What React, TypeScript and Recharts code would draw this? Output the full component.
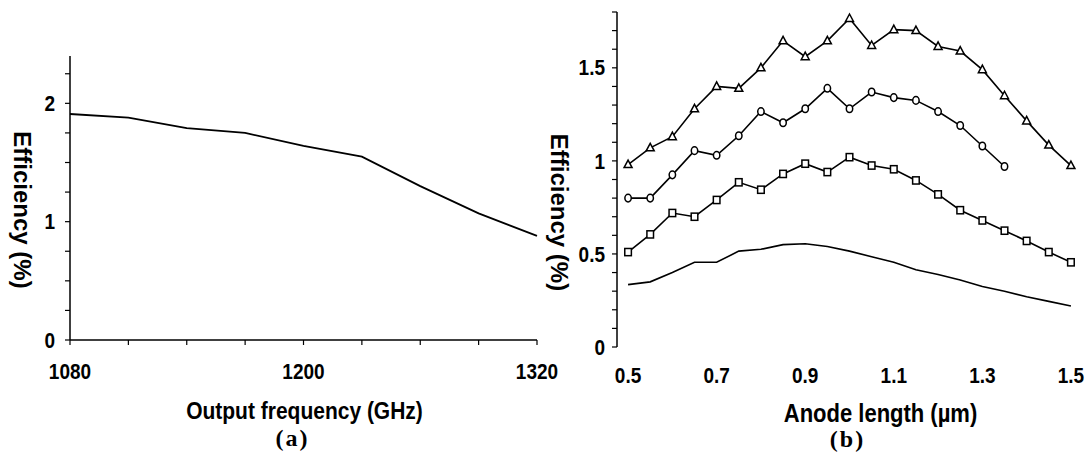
import React from 'react'
import { Label, Line, LineChart, XAxis, YAxis } from 'recharts'

// (a) efficiency vs output frequency
const freqs = [1080, 1110, 1140, 1170, 1200, 1230, 1260, 1290, 1320]
const effFreq = [1.91, 1.88, 1.79, 1.75, 1.64, 1.55, 1.3, 1.07, 0.88]
const freqTicks = [1080, 1110, 1140, 1170, 1200, 1230, 1260, 1290, 1320]
const freqLabels = [1080, 1200, 1320]
const effTicksA = [0, 0.25, 0.5, 0.75, 1, 1.25, 1.5, 1.75, 2, 2.25]
const effLabelsA = [0, 1, 2]

// (b) efficiency vs anode length, four curves
const anode = [
  0.5, 0.55, 0.6, 0.65, 0.7, 0.75, 0.8, 0.85, 0.9, 0.95, 1, 1.05, 1.1, 1.15,
  1.2, 1.25, 1.3, 1.35, 1.4, 1.45, 1.5,
]
const triangles = [
  0.98, 1.07, 1.13, 1.28, 1.4, 1.39, 1.5, 1.645, 1.56, 1.645, 1.765, 1.62,
  1.705, 1.7, 1.615, 1.59, 1.49, 1.35, 1.215, 1.085, 0.975,
]
const circles = [
  0.8, 0.8, 0.925, 1.055, 1.03, 1.135, 1.265, 1.205, 1.28, 1.39, 1.28, 1.37,
  1.34, 1.325, 1.265, 1.19, 1.08, 0.97, null, null, null,
]
const squares = [
  0.51, 0.605, 0.72, 0.7, 0.79, 0.885, 0.845, 0.93, 0.985, 0.94, 1.02, 0.975,
  0.955, 0.895, 0.82, 0.735, 0.68, 0.625, 0.57, 0.51, 0.455,
]
const plain = [
  0.335, 0.35, 0.4, 0.455, 0.455, 0.515, 0.525, 0.55, 0.555, 0.54, 0.515,
  0.485, 0.455, 0.415, 0.39, 0.36, 0.325, 0.3, 0.27, 0.245, 0.22,
]
// tick marks sit between the categories, labels on every 4th category
const anodeBoundaries = [
  0.475, 0.525, 0.575, 0.625, 0.675, 0.725, 0.775, 0.825, 0.875, 0.925, 0.975,
  1.025, 1.075, 1.125, 1.175, 1.225, 1.275, 1.325, 1.375, 1.425, 1.475, 1.525,
]
const anodeLabels = [0.5, 0.7, 0.9, 1.1, 1.3, 1.5]
const effTicksB = [
  0, 0.1, 0.2, 0.3, 0.4, 0.5, 0.6, 0.7, 0.8, 0.9, 1, 1.1, 1.2, 1.3, 1.4, 1.5,
  1.6, 1.7, 1.8,
]
const effLabelsB = [0, 0.5, 1, 1.5]

const dataA = freqs.map((f, i) => ({ f, eff: effFreq[i] }))
const dataB = anode.map((x, i) => ({
  x,
  tri: triangles[i],
  circ: circles[i],
  sq: squares[i],
  plain: plain[i],
}))

const SANS = '"Liberation Sans", Arial, sans-serif'
const SERIF = '"Liberation Serif", "Times New Roman", serif'
// the scanned figure is a little taller than wide, so text is stretched a bit
const STRETCH = 1.13
const TICK_SIZE = 19

const axisLine = { stroke: '#000', strokeWidth: 1.5 }
const tickLine = { stroke: '#000', strokeWidth: 1.2 }

const only = (list: number[]) => (v: number) =>
  list.some((l) => Math.abs(l - v) < 1e-9) ? String(v) : ''

const Tick = ({ x, y, payload, textAnchor, fmt, side }: any) => {
  const label = fmt(payload.value)
  if (!label) return null
  const dy = side === 'y' ? 0.355 * TICK_SIZE * STRETCH : 0.72 * TICK_SIZE * STRETCH
  return (
    <g transform={`translate(${x},${y + dy}) scale(1,${STRETCH})`}>
      <text
        x={0}
        y={0}
        textAnchor={textAnchor}
        fill="#000"
        fontSize={TICK_SIZE}
        fontWeight={700}
        fontFamily={SANS}
      >
        {label}
      </text>
    </g>
  )
}

const XTitle = ({ viewBox, text, dx = 0, dy = 0, size = 21, serif = false }: any) => {
  const x = viewBox.x + viewBox.width / 2 + dx
  const y = viewBox.y + dy
  return (
    <g transform={`translate(${x},${y}) scale(1,${serif ? 1 : STRETCH})`}>
      <text
        x={0}
        y={0}
        textAnchor="middle"
        fill="#000"
        fontSize={size}
        fontWeight={700}
        fontFamily={serif ? SERIF : SANS}
        letterSpacing={serif ? 2 : 0}
      >
        {text}
      </text>
    </g>
  )
}

const YTitle = ({ viewBox, text, dx = 0, dy = 0, size = 24 }: any) => {
  const x = viewBox.x + dx
  const y = viewBox.y + viewBox.height / 2 + dy
  return (
    <text
      x={x}
      y={y}
      transform={`rotate(90, ${x}, ${y})`}
      textAnchor="middle"
      dominantBaseline="central"
      fill="#000"
      fontSize={size}
      fontWeight={700}
      fontFamily={SANS}
    >
      {text}
    </text>
  )
}

const Triangle = ({ cx, cy }: any) => {
  if (cx == null || cy == null) return null
  return (
    <path
      d={`M${cx},${cy - 4.5} L${cx + 4},${cy + 3} L${cx - 4},${cy + 3} Z`}
      fill="#fff"
      stroke="#000"
      strokeWidth={1.5}
    />
  )
}

const Circle = ({ cx, cy }: any) => {
  if (cx == null || cy == null) return null
  return <ellipse cx={cx} cy={cy} rx={3.2} ry={3.8} fill="#fff" stroke="#000" strokeWidth={1.5} />
}

const Square = ({ cx, cy }: any) => {
  if (cx == null || cy == null) return null
  return (
    <rect x={cx - 3.3} y={cy - 3.6} width={6.6} height={7.2} fill="#fff" stroke="#000" strokeWidth={1.5} />
  )
}

function ChartA() {
  return (
    <LineChart width={560} height={466} data={dataA} margin={{ top: 56, right: 23, left: 0, bottom: 0 }}>
      <XAxis
        dataKey="f"
        type="number"
        domain={[1080, 1320]}
        ticks={freqTicks}
        interval={0}
        height={126}
        tickSize={5}
        tickMargin={19}
        tick={<Tick fmt={only(freqLabels)} side="x" />}
        axisLine={axisLine}
        tickLine={tickLine}
      >
        <Label content={<XTitle text="Output frequency (GHz)" dx={1} dy={79} />} />
        <Label content={<XTitle text="(a)" dx={-11} dy={106} size={24} serif />} />
      </XAxis>
      <YAxis
        type="number"
        domain={[0, 2.4]}
        ticks={effTicksA}
        interval={0}
        width={70}
        tickSize={5}
        tickMargin={10}
        tick={<Tick fmt={only(effLabelsA)} side="y" />}
        axisLine={axisLine}
        tickLine={tickLine}
      >
        <Label content={<YTitle text="Efficiency (%)" dx={22} dy={12} />} />
      </YAxis>
      <Line
        type="linear"
        dataKey="eff"
        stroke="#000"
        strokeWidth={1.8}
        dot={false}
        isAnimationActive={false}
      />
    </LineChart>
  )
}

function ChartB() {
  return (
    <LineChart width={551} height={466} data={dataB} margin={{ top: 12, right: 9, left: 0, bottom: 0 }}>
      <XAxis
        xAxisId="marks"
        dataKey="x"
        type="number"
        domain={[0.475, 1.525]}
        ticks={anodeBoundaries}
        interval={0}
        height={0}
        tickSize={6}
        tick={<Tick fmt={() => ''} side="x" />}
        axisLine={axisLine}
        tickLine={tickLine}
      />
      <XAxis
        xAxisId="labels"
        dataKey="x"
        type="number"
        domain={[0.475, 1.525]}
        ticks={anodeLabels}
        interval={0}
        height={119}
        tickSize={0}
        tickMargin={21}
        tick={<Tick fmt={only(anodeLabels)} side="x" />}
        axisLine={false}
        tickLine={false}
      >
        <Label content={<XTitle text="Anode length (µm)" dx={31} dy={75} size={22} />} />
        <Label content={<XTitle text="(b)" dx={-2} dy={100} size={24} serif />} />
      </XAxis>
      <YAxis
        type="number"
        domain={[0, 1.8]}
        ticks={effTicksB}
        interval={0}
        width={77}
        tickSize={5}
        tickMargin={7}
        tick={<Tick fmt={only(effLabelsB)} side="y" />}
        axisLine={axisLine}
        tickLine={tickLine}
      >
        <Label content={<YTitle text="Efficiency (%)" dx={19} dy={33} />} />
      </YAxis>
      <Line xAxisId="labels" type="linear" dataKey="tri" stroke="#000" strokeWidth={1.6} dot={<Triangle />} isAnimationActive={false} />
      <Line xAxisId="labels" type="linear" dataKey="circ" stroke="#000" strokeWidth={1.6} dot={<Circle />} isAnimationActive={false} />
      <Line xAxisId="labels" type="linear" dataKey="sq" stroke="#000" strokeWidth={1.6} dot={<Square />} isAnimationActive={false} />
      <Line xAxisId="labels" type="linear" dataKey="plain" stroke="#000" strokeWidth={1.6} dot={false} isAnimationActive={false} />
    </LineChart>
  )
}

export default function App() {
  return (
    <div style={{ position: 'absolute', left: 0, top: 0, width: 1091, height: 466, background: '#fff' }}>
      <div style={{ position: 'absolute', left: 0, top: 0 }}>
        <ChartA />
      </div>
      <div style={{ position: 'absolute', left: 540, top: 0 }}>
        <ChartB />
      </div>
    </div>
  )
}
